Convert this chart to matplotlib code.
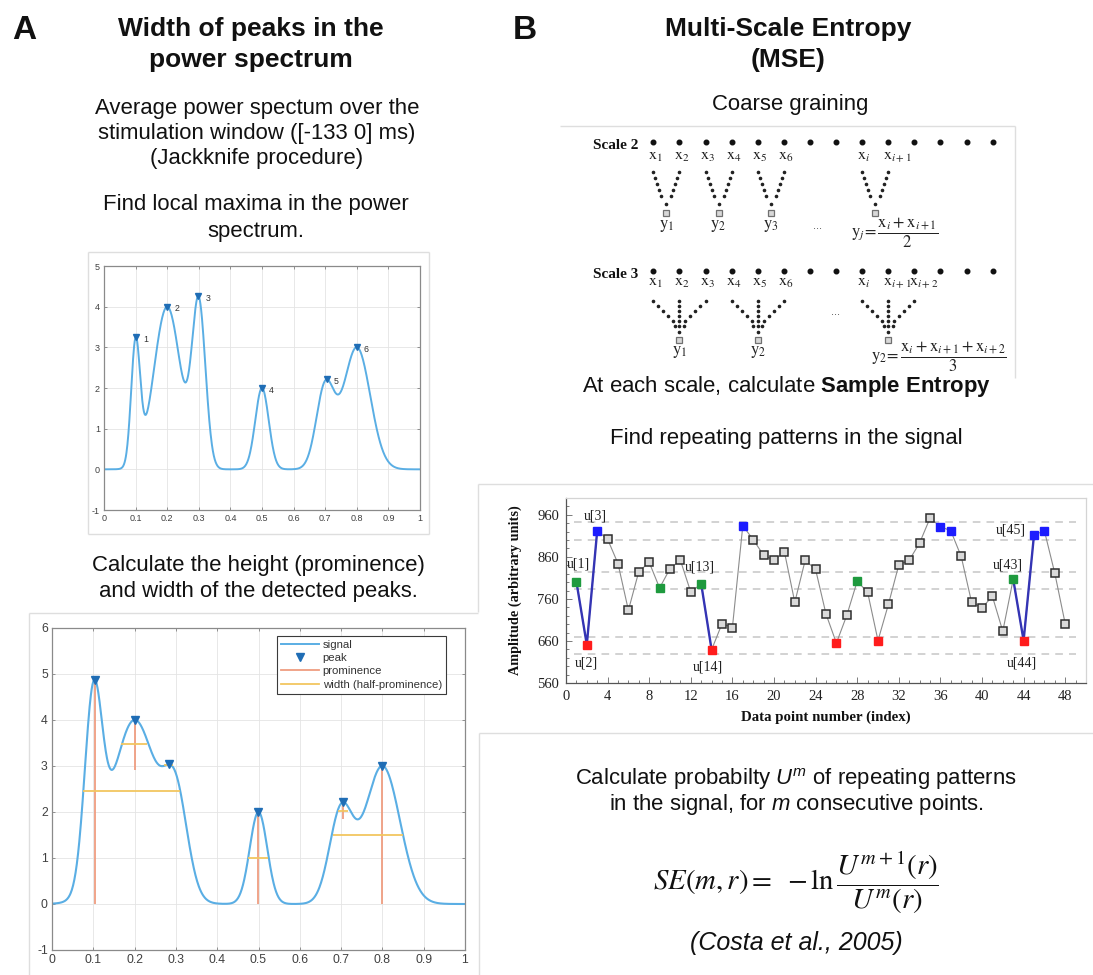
import numpy as np
import matplotlib
matplotlib.use("Agg")
import matplotlib.pyplot as plt
from matplotlib.lines import Line2D

W, H = 1093, 975
plt.rcParams['font.family'] = ['Liberation Sans', 'DejaVu Sans']
plt.rcParams['mathtext.fontset'] = 'custom'
plt.rcParams['mathtext.rm'] = 'Liberation Sans'
plt.rcParams['mathtext.it'] = 'Liberation Sans:italic'
plt.rcParams['mathtext.bf'] = 'Liberation Sans:bold'
plt.rcParams['axes.unicode_minus'] = False

# ---------------- DATA ----------------
# Panel A (top): Gaussian peak components
top_pos = [0.1, 0.2, 0.3, 0.5, 0.7, 0.8]
top_hgt = [3, 4, 4, 2, 2, 3]
top_wdt = [0.02, 0.06, 0.03, 0.03, 0.04, 0.06]
peak_labels = ['1', '2', '3', '4', '5', '6']
a_xticks = [0, 0.1, 0.2, 0.3, 0.4, 0.5, 0.6, 0.7, 0.8, 0.9, 1]
a_xticklabels = ['0', '0.1', '0.2', '0.3', '0.4', '0.5', '0.6', '0.7', '0.8', '0.9', '1']
top_yticks = [-1, 0, 1, 2, 3, 4, 5]

# Panel A (bottom): peak components + prominence / width annotations
bot_pos = [0.1, 0.2, 0.3, 0.5, 0.7, 0.8]
bot_hgt = [4, 4, 2, 2, 2, 3]
bot_wdt = [0.03, 0.08, 0.04, 0.03, 0.04, 0.06]
prom_base = [0.0, 2.91, 3.0, 0.0, 1.85, 0.0]
width_height = [2.46, 3.48, 3.02, 1.0, 2.02, 1.5]
width_left = [0.075, 0.166, 0.272, 0.475, 0.693, 0.681]
width_right = [0.310, 0.231, 0.292, 0.524, 0.717, 0.851]
bot_yticks = [-1, 0, 1, 2, 3, 4, 5, 6]
legend_labels = ['signal', 'peak', 'prominence', 'width (half-prominence)']

# Panel B: sample entropy signal
mse_values = [801, 651, 922, 902, 844, 733, 825, 847, 786, 832,
              852, 776, 796, 639, 701, 692, 934, 901, 864, 852,
              872, 752, 852, 830, 724, 655, 721, 802, 776, 661,
              747, 841, 852, 893, 952, 932, 922, 861, 752, 739,
              766, 683, 807, 661, 912, 922, 821, 701]
mse_index = list(range(1, 49))
green_idx = [1, 9, 13, 28, 43]
red_idx = [2, 14, 26, 30, 44]
blue_idx = [3, 17, 36, 37, 45, 46]
template_segments = [(1, 3), (13, 14), (43, 45)]
ref_levels = [630, 670, 783, 823, 901, 942]
mse_xticks = list(range(0, 49, 4))
mse_yticks = [560, 660, 760, 860, 960]
mse_notes = [('u[1]', 1.15, 842), ('u[2]', 1.97, 608), ('u[3]', 2.84, 957),
             ('u[13]', 12.9, 835), ('u[14]', 13.65, 599), ('u[43]', 42.5, 840),
             ('u[44]', 43.8, 607), ('u[45]', 42.8, 925)]

# Coarse graining schematic
cg_scale2_labels = {0: '1', 1: '2', 2: '3', 3: '4', 4: '5', 5: '6', 8: 'i', 9: 'i+1'}
cg_scale3_labels = {0: '1', 1: '2', 2: '3', 3: '4', 4: '5', 5: '6', 8: 'i', 9: 'i+1', 10: 'i+2'}
cg_scale2_groups = [(0, 1), (2, 3), (4, 5), (8, 9)]
cg_scale2_names = ['1', '2', '3', None]
cg_scale3_groups = [(0, 1, 2), (3, 4, 5), (8, 9, 10)]
cg_scale3_names = ['1', '2', None]
cg_n_dots = 14

# ---------------- FIGURE ----------------
fig = plt.figure(figsize=(W / 100, H / 100), dpi=100)


def px_axes(l, t, r, b, **kw):
    return fig.add_axes([l / W, 1 - b / H, (r - l) / W, (b - t) / H], **kw)


def ftext(x, y, s, **kw):
    kw.setdefault('ha', 'center')
    kw.setdefault('va', 'baseline')
    kw.setdefault('color', '#111111')
    return fig.text(x / W, 1 - y / H, s, **kw)


# background frames
bg = px_axes(0, 0, W, H, zorder=-5)
bg.set_xlim(0, W)
bg.set_ylim(H, 0)
bg.axis('off')
FR = '#dedede'
frames = [((88, 429), (252, 252)), ((429, 429), (252, 534)), ((88, 88), (252, 534)), ((88, 429), (534, 534)),
          ((29, 478), (613, 613)), ((29, 29), (613, 975)),
          ((560, 1015), (126, 126)), ((1015, 1015), (126, 378)),
          ((478, 1093), (484, 484)), ((478, 478), (484, 612)),
          ((479, 1093), (733, 733)), ((479, 479), (733, 975))]
for xs, ys in frames:
    bg.plot(xs, ys, color=FR, lw=1.0, solid_capstyle='butt')

# ---------------- TEXT ----------------
TS = 19
BS = 15.9
ftext(12, 39, 'A', ha='left', fontsize=24, fontweight='bold')
ftext(513, 39, 'B', ha='left', fontsize=24, fontweight='bold')
ftext(251, 36, 'Width of peaks in the', fontsize=TS, fontweight='bold')
ftext(251, 67, 'power spectrum', fontsize=TS, fontweight='bold')
ftext(257, 114, 'Average power spectum over the', fontsize=BS)
ftext(257, 139, 'stimulation window ([-133 0] ms)', fontsize=BS)
ftext(257, 164, '(Jackknife procedure)', fontsize=BS)
ftext(256, 210, 'Find local maxima in the power', fontsize=BS)
ftext(256, 237, 'spectrum.', fontsize=BS)
ftext(258, 571, 'Calculate the height (prominence)', fontsize=BS)
ftext(258, 597, 'and width of the detected peaks.', fontsize=BS)

ftext(788, 36, 'Multi-Scale Entropy', fontsize=TS, fontweight='bold')
ftext(788, 67, '(MSE)', fontsize=TS, fontweight='bold')
ftext(790, 110, 'Coarse graining', fontsize=BS)
ftext(786, 392, r'At each scale, calculate $\mathbf{Sample\ Entropy}$', fontsize=BS)
ftext(786, 444, 'Find repeating patterns in the signal', fontsize=BS)
ftext(796, 785, r'Calculate probabilty $U^{m}$ of repeating patterns', fontsize=BS)
ftext(796, 810, r'in the signal, for $m$ consecutive points.', fontsize=BS)
ftext(796, 882, r'$SE(m,r) =\ -\ln\dfrac{U^{m+1}(r)}{U^{m}(r)}$', fontsize=20.8,
      va='center', math_fontfamily='stix')
ftext(796, 950, '(Costa et al., 2005)', fontsize=18, style='italic')

# ---------------- PANEL A CHARTS ----------------
SIG = '#5aaee4'
PKC = '#1f6db5'
PROM = '#ef9d80'
WID = '#f2c660'
xg = np.linspace(0, 1, 1000)


def gauss_sum(pos, hgt, wdt):
    out = np.zeros_like(xg)
    for p, h, w in zip(pos, hgt, wdt):
        out += h * np.exp(-((xg - p) / w) ** 2)
    return out


def local_max(y):
    return np.where((y[1:-1] > y[:-2]) & (y[1:-1] >= y[2:]))[0] + 1


def matlab_style(ax, fs):
    ax.grid(True, color='#e4e4e4', lw=0.6)
    ax.set_axisbelow(True)
    ax.tick_params(direction='in', top=True, right=True, length=2.5, width=0.6,
                   colors='#808080', labelcolor='#404040', labelsize=fs, pad=3)
    for s in ax.spines.values():
        s.set_color('#8a8a8a')
        s.set_linewidth(0.9)


y_top = gauss_sum(top_pos, top_hgt, top_wdt)
pk_top = local_max(y_top)
ax1 = px_axes(104, 266, 420, 510)
ax1.plot(xg, y_top, color=SIG, lw=1.4)
ax1.plot(xg[pk_top], y_top[pk_top], 'v', color=PKC, ms=4.5, ls='none')
for lab, i in zip(peak_labels, pk_top):
    ax1.annotate(lab, (xg[i], y_top[i]), xytext=(5, -1.5), textcoords='offset points',
                 fontsize=6.3, ha='left', va='center', color='#333333')
ax1.set_xlim(0, 1)
ax1.set_ylim(-1, 5)
ax1.set_xticks(a_xticks, a_xticklabels)
ax1.set_yticks(top_yticks)
matlab_style(ax1, 6.5)

y_bot = gauss_sum(bot_pos, bot_hgt, bot_wdt)
pk_bot = local_max(y_bot)
ax2 = px_axes(52, 628, 465, 950)
ax2.plot(xg, y_bot, color=SIG, lw=1.5, zorder=2)
ax2.vlines(xg[pk_bot], prom_base, y_bot[pk_bot], color=PROM, lw=1.3, zorder=3)
ax2.hlines(width_height, width_left, width_right, color=WID, lw=1.3, zorder=3)
ax2.plot(xg[pk_bot], y_bot[pk_bot], 'v', color=PKC, ms=6, ls='none', zorder=4)
ax2.set_xlim(0, 1)
ax2.set_ylim(-1, 6)
ax2.set_xticks(a_xticks, a_xticklabels)
ax2.set_yticks(bot_yticks)
matlab_style(ax2, 8.8)
handles = [Line2D([], [], color=SIG, lw=1.4),
           Line2D([], [], color=PKC, marker='v', ls='none', ms=6),
           Line2D([], [], color=PROM, lw=1.3),
           Line2D([], [], color=WID, lw=1.3)]
leg = ax2.legend(handles, legend_labels, loc='upper right', bbox_to_anchor=(446 / W, 1 - 636 / H),
                 bbox_transform=fig.transFigure, borderaxespad=0, fontsize=8.2, fancybox=False,
                 framealpha=1, edgecolor='#3a3a3a', handlelength=3.4, handletextpad=0.3,
                 labelspacing=0.28, borderpad=0.35)
leg.get_frame().set_linewidth(0.8)
for t in leg.get_texts():
    t.set_color('#333333')

# ---------------- COARSE GRAINING ----------------
SER = 'Liberation Serif'
cg = px_axes(560, 125, 1015, 380)
cg.set_xlim(560, 1015)
cg.set_ylim(380, 125)
cg.axis('off')
dot_x = 653.3 + 26.1 * np.arange(cg_n_dots)


def small_dots(x0, y0, x1, y1, n=5):
    t = np.linspace(0, 1, n)
    cg.plot(x0 + t * (x1 - x0), y0 + t * (y1 - y0), 'o', color='#222222', ms=1.6, ls='none')


def square(x, y):
    cg.plot([x], [y], 's', ms=4.2, mfc='#d8d8d8', mec='#707070', mew=0.9)


for row_y, lab_y, labels, title in [(142, 157, cg_scale2_labels, 'Scale 2'),
                                     (271, 283, cg_scale3_labels, 'Scale 3')]:
    cg.plot(dot_x, np.full(cg_n_dots, row_y), 'o', color='#111111', ms=3.3, ls='none')
    cg.text(593, row_y + 7, title, fontfamily=SER, fontweight='bold', fontsize=11,
            ha='left', va='baseline', color='#111111')
    for k, s in labels.items():
        cg.text(dot_x[k] - 5.5, lab_y, r'$\mathrm{x}_{%s}$' % s, math_fontfamily='stix',
                fontsize=11.5, ha='left', va='center', color='#222222')

for g, name in zip(cg_scale2_groups, cg_scale2_names):
    xa, xb = dot_x[g[0]], dot_x[g[1]]
    xc = 0.5 * (xa + xb)
    small_dots(xa, 172, xc - 5, 196, 5)
    small_dots(xb, 172, xc + 5, 196, 5)
    small_dots(xc, 204, xc, 204, 1)
    square(xc, 213)
    if name is not None:
        cg.text(xc, 226, r'$\mathrm{y}_{%s}$' % name, math_fontfamily='stix', fontsize=12,
                ha='center', va='center', color='#222222')
    else:
        cg.text(xc - 24, 233, r'$\mathrm{y}_{j}\!=\dfrac{\mathrm{x}_{i}+\mathrm{x}_{i+1}}{2}$',
                math_fontfamily='stix', fontsize=12, ha='left', va='center', color='#222222')
cg.text(817, 226, '...', fontsize=8, ha='center', va='center', color='#444444')

for g, name in zip(cg_scale3_groups, cg_scale3_names):
    xa, xm, xb = dot_x[g[0]], dot_x[g[1]], dot_x[g[2]]
    small_dots(xa, 301, xm - 6, 321, 5)
    small_dots(xb, 301, xm + 6, 321, 5)
    small_dots(xm, 301, xm, 321, 5)
    small_dots(xm - 4.5, 326, xm + 4.5, 326, 3)
    small_dots(xm, 332, xm, 332, 1)
    square(xm, 340)
    if name is not None:
        cg.text(xm, 352, r'$\mathrm{y}_{%s}$' % name, math_fontfamily='stix', fontsize=12,
                ha='center', va='center', color='#222222')
    else:
        cg.text(xm - 17, 357,
                r'$\mathrm{y}_{2}\!=\dfrac{\mathrm{x}_{i}+\mathrm{x}_{i+1}+\mathrm{x}_{i+2}}{3}$',
                math_fontfamily='stix', fontsize=12, ha='left', va='center', color='#222222')
cg.text(836, 312, '...', fontsize=8, ha='center', va='center', color='#444444')

# ---------------- SAMPLE ENTROPY CHART ----------------
ax3 = px_axes(566, 498, 1086, 683)
ax3.hlines(ref_levels, 0.8, 49, colors='#c6c6c6', linestyles=(0, (5, 4)), lw=1.1, zorder=1)
ax3.plot(mse_index, mse_values, color='#8c8c8c', lw=0.8, zorder=2)
for a, b in template_segments:
    ax3.plot(mse_index[a - 1:b], mse_values[a - 1:b], color='#3434b4', lw=1.7, zorder=3)
special = set(green_idx) | set(red_idx) | set(blue_idx)
gx = [i for i in mse_index if i not in special]
ax3.plot(gx, [mse_values[i - 1] for i in gx], 's', ms=5.5, mfc='#dadada', mec='#2e2e2e',
         mew=1.1, ls='none', zorder=4)
for idx, col in [(green_idx, '#1e9a3e'), (red_idx, '#ff1c1c'), (blue_idx, '#1c1cff')]:
    ax3.plot(idx, [mse_values[i - 1] for i in idx], 's', ms=5.5, mfc=col, mec=col,
             ls='none', zorder=5)
for s, x, y in mse_notes:
    ax3.text(x, y, s, fontfamily=SER, fontsize=10, ha='center', va='center', color='#222222')
ax3.set_xlim(0, 50)
ax3.set_ylim(560, 1000)
ax3.set_xticks(mse_xticks, [str(v) for v in mse_xticks], fontfamily=SER, fontsize=10.5)
ax3.set_yticks(mse_yticks, [str(v) for v in mse_yticks], fontfamily=SER, fontsize=10.5)
ax3.set_xticks(range(0, 51), minor=True)
ax3.set_yticks(range(560, 1001, 20), minor=True)
ax3.tick_params(which='both', direction='in', colors='#666666', labelcolor='#222222', width=0.6)
ax3.tick_params(which='major', length=4, pad=5)
ax3.tick_params(which='minor', length=2)
for side in ['left', 'bottom']:
    ax3.spines[side].set_color('#555555')
    ax3.spines[side].set_linewidth(0.9)
for side in ['top', 'right']:
    ax3.spines[side].set_color('#d4d4d4')
    ax3.spines[side].set_linewidth(0.9)
ax3.set_xlabel('Data point number (index)', fontfamily=SER, fontweight='bold', fontsize=10.7,
               color='#111111')
ax3.set_ylabel('Amplitude (arbitrary units)', fontfamily=SER, fontweight='bold', fontsize=10.3,
               color='#111111')
ax3.xaxis.set_label_coords(0.5, -(711 - 683) / 185)
ax3.yaxis.set_label_coords(-(566 - 522) / 520, 0.5)

fig.savefig('out.png', dpi=100, facecolor='white')
